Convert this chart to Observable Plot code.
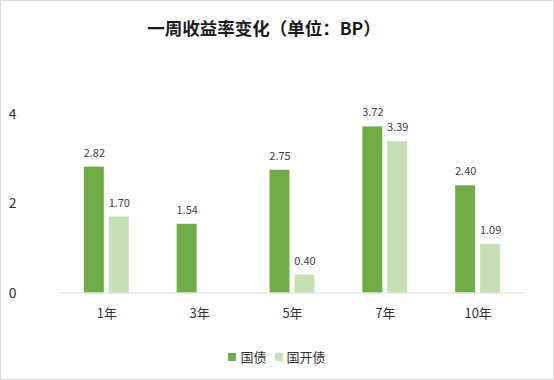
<!DOCTYPE html>
<html><head><meta charset="utf-8">
<script src="https://cdn.jsdelivr.net/npm/d3@7"></script>
<script src="https://cdn.jsdelivr.net/npm/@observablehq/plot@0.6"></script>
<style>
html,body{margin:0;padding:0;background:#fff;}
#wrap{position:relative;width:552px;height:378px;border:1px solid #d9d9d9;font-family:"Noto Sans CJK SC","Noto Sans",sans-serif;overflow:hidden;}
#title{position:absolute;top:14px;left:0;width:526px;text-align:center;font-size:17.5px;font-weight:bold;color:#1a1a1a;line-height:26px;}
#chart{position:absolute;top:49px;left:-1px;}
#legend{position:absolute;top:346px;left:0;width:552px;display:flex;justify-content:center;align-items:center;font-size:13px;color:#333;line-height:20px;}
.item{display:flex;align-items:center;margin:0 4px;}
.sw{width:8px;height:8px;margin-right:4px;}
</style></head>
<body>
<div id="wrap">
<div id="title">一周收益率变化（单位：BP）</div>
<div id="chart"></div>
<div id="legend"></div>
</div>
<script>
const categories = ["1年","3年","5年","7年","10年"];
const series = ["国债","国开债"];
const guozhai = [2.82, 1.54, 2.75, 3.72, 2.40];
const guokai = [1.70, null, 0.40, 3.39, 1.09];
const colors = ["#70AD47","#C5E0B4"];
const yTicks = [0,2,4];

const data = [];
categories.forEach((c,i)=>{
  if (guozhai[i]!=null) data.push({cat:c, s:series[0], v:guozhai[i]});
  if (guokai[i]!=null) data.push({cat:c, s:series[1], v:guokai[i]});
});

const plot = Plot.plot({
  width: 554,
  height: 281,
  marginTop: 64,
  marginBottom: 38,
  marginLeft: 60,
  marginRight: 29,
  style: {fontFamily: '"Noto Sans CJK SC","Noto Sans",sans-serif', fontSize: "13px", color: "#333", background: "transparent"},
  fx: {domain: categories, padding: 0, axis: "bottom", label: null, tickSize: 0, tickPadding: 16},
  x: {domain: series, axis: null, paddingInner: 0.19, paddingOuter: 0.885},
  y: {domain: [0,4], ticks: yTicks, tickSize: 0, tickPadding: 44, label: null, tickFormat: d=>String(d)},
  color: {domain: series, range: colors},
  marks: [
    Plot.barY(data, {fx:"cat", x:"s", y:"v", fill:"s"}),
    Plot.ruleY([0], {stroke:"#d9d9d9", strokeWidth:1}),
    Plot.text(data, {fx:"cat", x:"s", y:"v", text: d=>d.v.toFixed(2), dy:-14, fontSize:11, fill:"#404040"})
  ]
});
plot.querySelectorAll('[aria-label="y-axis tick label"] text').forEach(t=>t.setAttribute("font-size","14"));
document.getElementById("chart").appendChild(plot);

const lg = document.getElementById("legend");
series.forEach((s,i)=>{
  const it = document.createElement("div"); it.className="item";
  const sw = document.createElement("div"); sw.className="sw"; sw.style.background=colors[i];
  const t = document.createElement("span"); t.textContent=s;
  it.appendChild(sw); it.appendChild(t); lg.appendChild(it);
});
</script>
</body></html>
